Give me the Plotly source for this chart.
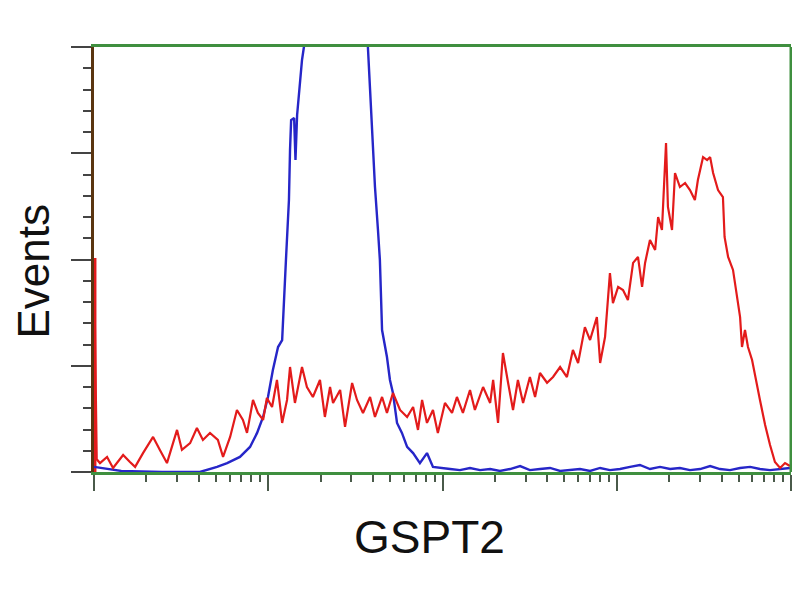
import numpy as np
import plotly.graph_objects as go

# 256-channel histogram, x = channel (log scale, 4 decades), y = events
red_ch = [0, 1, 2.2, 4.8, 7.0, 10.7, 13.2, 15.1, 18.0, 21.7,
          24.2, 26.8, 30.5, 32.3, 35.3, 37.8, 40.0, 42.6, 45.5, 47.4,
          50.0, 52.5, 54.7, 56.2, 58.4, 60.2, 62.1, 63.5, 65.4, 67.2,
          69.1, 70.9, 72.0, 73.8, 76.4, 78.2, 80.4, 83.0, 84.8, 86.7,
          87.8, 90.4, 92.2, 94.8, 96.6, 98.8, 101.4, 103.2, 105.8, 107.6,
          109.8, 112.4, 115.0, 117.2, 119.0, 120.5, 122.3, 124.5, 126.3, 128.9,
          131.5, 133.3, 135.5, 138.1, 139.9, 142.9, 145.5, 146.6, 148.4, 150.2,
          152.1, 153.9, 155.7, 157.6, 160.1, 162.0, 163.8, 166.4, 168.6, 171.2,
          173.7, 175.9, 177.8, 180.3, 182.2, 184.7, 185.9, 187.7, 189.5, 190.6,
          192.5, 194.3, 196.1, 198.0, 199.8, 201.3, 202.4, 204.2, 206.1, 207.2,
          208.6, 210.1, 210.8, 212.3, 213.4, 215.2, 217.1, 218.9, 220.7, 221.8,
          223.7, 225.2, 226.3, 227.4, 229.2, 231.0, 231.6, 232.9, 234.7, 236.5,
          237.3, 238.0, 239.1, 240.2, 241.7, 244.6, 246.5, 248.3, 250.1, 252.0,
          253.8, 255.6]
red_cnt = [100.7, 6.0, 4.2, 7.1, 1.9, 8.0, 4.7, 2.4, 8.9, 16.5,
           10.4, 4.2, 19.8, 10.4, 13.6, 20.7, 15.1, 18.4, 15.1, 7.1,
           16.5, 29.2, 24.5, 18.4, 33.9, 27.8, 24.5, 34.8, 30.6, 43.3,
           23.1, 33.9, 49.4, 32.5, 49.4, 40.0, 35.3, 43.3, 25.9, 40.0,
           32.5, 38.6, 21.2, 41.9, 33.9, 27.8, 35.3, 25.9, 35.3, 27.8,
           37.2, 29.2, 25.9, 30.6, 19.8, 33.9, 23.1, 29.2, 18.4, 32.5,
           27.8, 35.3, 27.8, 38.6, 29.2, 40.0, 32.5, 43.3, 23.1, 56.0,
           41.9, 29.2, 43.3, 32.5, 44.7, 35.3, 46.6, 42.0, 44.7, 49.4,
           44.7, 57.4, 51.3, 68.2, 62.1, 72.9, 51.3, 63.5, 93.6, 79.5,
           87.1, 85.6, 80.9, 98.4, 101.2, 87.1, 98.4, 109.2, 104.5, 120.0,
           113.9, 154.8, 124.7, 113.9, 140.7, 134.1, 136.0, 132.7, 128.0, 137.4,
           148.2, 146.8, 148.2, 140.7, 132.7, 129.4, 110.6, 101.2, 95.1, 79.5,
           72.9, 58.8, 66.8, 58.8, 52.7, 33.9, 22.1, 12.7, 4.7, 1.9,
           4.2, 2.8]

blue_ch = [0, 10, 25, 38.9, 45.2, 48.9, 53.6, 57.3, 59.9, 62.1,
           63.9, 65.7, 67.6, 69.1, 70.5, 71.6, 72.0, 72.4, 73.5, 74.0,
           74.6, 75.7, 76.4, 77.1, 86.0, 93.0, 100.6, 101.4, 102.1, 103.2,
           104.3, 105.0, 105.8, 107.6, 108.7, 109.8, 111.3, 113.1, 115.0, 117.2,
           119.7, 122.3, 124.5, 127.1, 130.8, 134.4, 138.1, 141.8, 145.5, 149.1,
           152.8, 156.5, 160.1, 163.8, 167.5, 171.2, 174.8, 178.5, 182.2, 185.9,
           189.5, 193.2, 196.9, 200.5, 204.2, 207.9, 211.6, 215.2, 218.9, 222.6,
           226.3, 229.9, 233.6, 237.3, 241.0, 244.6, 248.3, 252.0, 255.6]
blue_cnt = [2.4, 0.5, 0.0, 0.0, 2.4, 4.2, 7.1, 11.8, 18.4, 25.9,
            35.3, 48.0, 58.8, 62.1, 99.8, 128.0, 151.5, 165.6, 166.6, 146.8,
            168.0, 184.5, 193.9, 200.0, 245.0, 248.0, 200.0, 179.8, 159.5, 134.1,
            113.9, 99.8, 66.8, 54.1, 43.3, 37.2, 23.1, 18.4, 11.8, 8.9,
            4.2, 8.9, 2.4, 1.9, 1.4, 0.9, 1.9, 0.9, 1.4, 0.5,
            1.4, 2.8, 0.9, 1.4, 1.9, 0.5, 0.9, 1.4, 0.5, 1.9,
            0.9, 1.4, 2.4, 3.3, 1.4, 2.4, 1.4, 1.9, 0.9, 1.4,
            2.8, 1.4, 0.9, 1.9, 2.4, 1.4, 0.9, 1.4, 1.9]

GREEN = "#3f8f3f"
CH_PER_DECADE = 64

# log decade ticks in channel units
major_x = [CH_PER_DECADE * d for d in range(5)]
minor_x = [CH_PER_DECADE * (d + np.log10(k)) for d in range(4) for k in range(2, 10)]

fig = go.Figure()
fig.add_trace(go.Scatter(x=blue_ch, y=blue_cnt, mode="lines",
                         line=dict(color="#2626c8", width=2.4)))
# first channel drawn as a solid bar, like the cytometer export
fig.add_trace(go.Bar(x=red_ch[:1], y=red_cnt[:1], width=1.8,
                     marker=dict(color="#e31b1b", line=dict(width=0))))
fig.add_trace(go.Scatter(x=red_ch, y=red_cnt, mode="lines",
                         line=dict(color="#e31b1b", width=2.2)))

# the page body adds ~8px offset, so margins are pulled in by that much
fig.update_layout(
    width=800, height=600,
    margin=dict(l=86, r=17, t=39, b=136, autoexpand=False),
    paper_bgcolor="white", plot_bgcolor="white",
    showlegend=False,
    xaxis=dict(range=[0, 256], showgrid=False, zeroline=False, automargin=False,
               showline=True, linecolor=GREEN, linewidth=3, mirror=True,
               tickmode="array", tickvals=major_x, showticklabels=False,
               ticks="outside", ticklen=16, tickwidth=2, tickcolor="#4a5a4a",
               minor=dict(tickmode="array", tickvals=minor_x, ticks="outside",
                          ticklen=7, tickwidth=2, tickcolor="#4a5a4a")),
    yaxis=dict(range=[0, 200], showgrid=False, zeroline=False, automargin=False,
               showline=True, linecolor="#5a3510", linewidth=3,
               tickmode="array", tickvals=[0, 50, 100, 150, 200],
               showticklabels=False,
               ticks="outside", ticklen=20, tickwidth=2, tickcolor="#444444",
               minor=dict(dtick=10, ticks="outside", ticklen=8,
                          tickwidth=2, tickcolor="#444444")),
)

# right edge of the frame is green like top and bottom
fig.add_shape(type="line", xref="paper", yref="paper", x0=1, x1=1, y0=0, y1=1,
              line=dict(color=GREEN, width=3))

fig.add_annotation(text="Events", xref="paper", yref="paper",
                   x=-0.0868, y=0.473, textangle=-90, showarrow=False,
                   xanchor="center", yanchor="middle", borderpad=0,
                   font=dict(family="Liberation Sans, Arial", size=44, color="#111111"))
fig.add_annotation(text="GSPT2", xref="paper", yref="paper",
                   x=0.481, y=-0.153, showarrow=False,
                   xanchor="center", yanchor="middle",
                   font=dict(family="Liberation Sans, Arial", size=46, color="#111111"))

fig.write_html("out.html")
